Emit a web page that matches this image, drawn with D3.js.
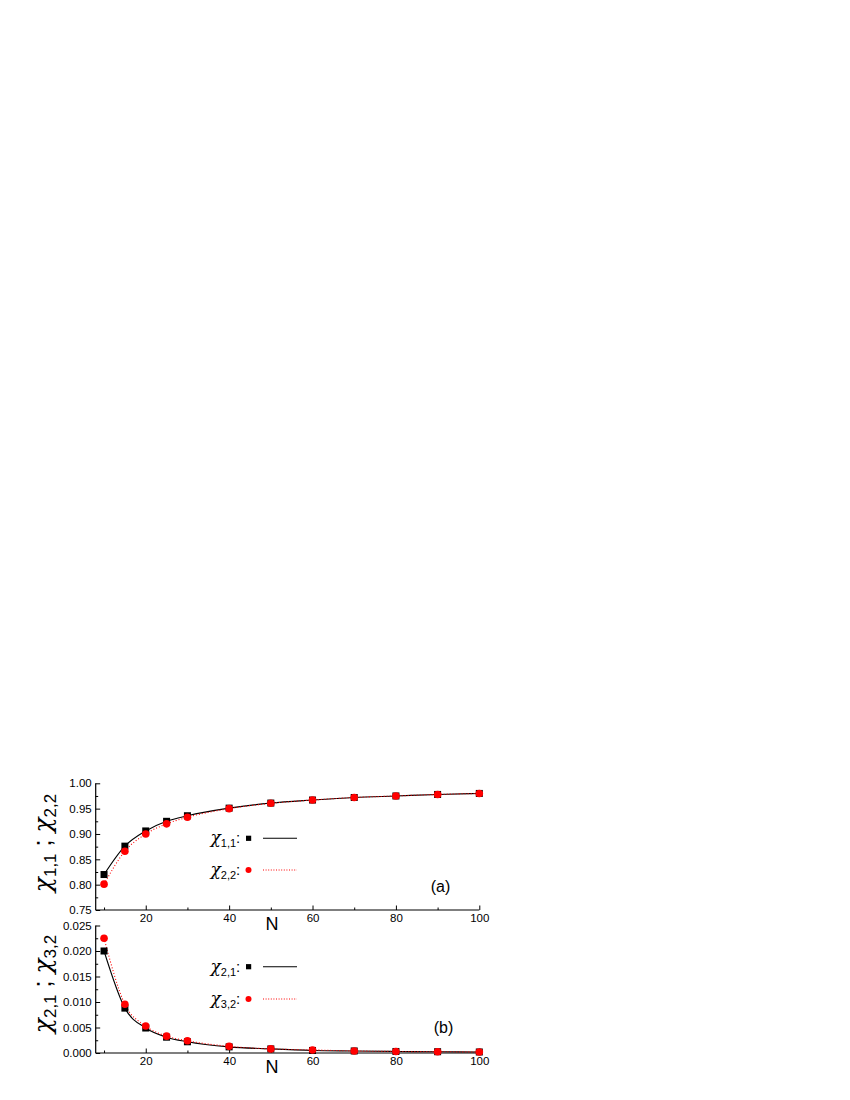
<!DOCTYPE html>
<html>
<head>
<meta charset="utf-8">
<script src="https://cdn.jsdelivr.net/npm/d3@7"></script>
<style>
  body { margin: 0; background: #fff; }
  text { font-family: "Liberation Sans", Arial, sans-serif; }
  .chi { font-family: "DejaVu Serif", "Liberation Serif", serif; font-style: italic; }
</style>
</head>
<body>
<script>
var N = [10, 15, 20, 25, 30, 40, 50, 60, 70, 80, 90, 100];
var chi11 = [0.820, 0.876, 0.906, 0.925, 0.936, 0.951, 0.961, 0.967, 0.972, 0.975, 0.978, 0.980];
var chi22 = [0.801, 0.866, 0.900, 0.920, 0.933, 0.950, 0.9605, 0.967, 0.972, 0.975, 0.978, 0.980];
var chi21 = [0.0200, 0.0088, 0.0049, 0.0031, 0.0022, 0.0012, 0.0008, 0.0005, 0.0004, 0.0003, 0.00025, 0.0002];
var chi32 = [0.0225, 0.00955, 0.0053, 0.0033, 0.0024, 0.0013, 0.0008, 0.0006, 0.0004, 0.0003, 0.00025, 0.0002];

var xMajor = [20, 40, 60, 80, 100];
var xMinor = [10, 30, 50, 70, 90];
var topMajor = [0.75, 0.80, 0.85, 0.90, 0.95, 1.00];
var botMajor = [0.000, 0.005, 0.010, 0.015, 0.020, 0.025];

var svg = d3.select("body").append("svg")
    .attr("width", 850)
    .attr("height", 1100);

svg.append("rect").attr("width", 850).attr("height", 1100).attr("fill", "#fff");

var x = d3.scaleLinear().domain([8, 100]).range([95.7, 479.3]);

var panels = [
  { y: d3.scaleLinear().domain([0.75, 1.00]).range([910, 783.3]),
    major: topMajor, fmt: d3.format(".2f"),
    black: chi11, red: chi22,
    names: ["1,1", "2,2"], label: "(a)",
    legY: [838.3, 870], labelPos: [440.5, 891.5], titleY: 843 },
  { y: d3.scaleLinear().domain([0, 0.025]).range([1053, 925.5]),
    major: botMajor, fmt: d3.format(".3f"),
    black: chi21, red: chi32,
    names: ["2,1", "3,2"], label: "(b)",
    legY: [966.7, 999], labelPos: [443.5, 1033], titleY: 984 }
];

panels.forEach(function(p) {
  var y = p.y;
  var g = svg.append("g");
  var y0 = y.range()[0];

  // axes, ticks point inward
  var ya = g.append("g").attr("transform", "translate(95.7,0)")
    .call(d3.axisLeft(y).tickValues(p.major).tickFormat(p.fmt).tickSize(-4.5).tickPadding(4));
  var minorY = [];
  for (var i = 0; i < p.major.length - 1; i++) minorY.push((p.major[i] + p.major[i + 1]) / 2);
  g.append("g").attr("transform", "translate(95.7,0)")
    .call(d3.axisLeft(y).tickValues(minorY).tickFormat("").tickSize(-2.5))
    .select(".domain").remove();

  var xa = g.append("g").attr("transform", "translate(0," + y0 + ")")
    .call(d3.axisBottom(x).tickValues(xMajor).tickSize(-4.5).tickPadding(4));
  g.append("g").attr("transform", "translate(0," + y0 + ")")
    .call(d3.axisBottom(x).tickValues(xMinor).tickFormat("").tickSize(-2.5))
    .select(".domain").remove();

  g.selectAll(".domain").attr("stroke-width", 1.2);
  g.selectAll(".tick line").attr("stroke-width", 1);
  g.selectAll(".tick text").attr("font-size", 11.5)
    .attr("font-family", "Liberation Sans, Arial, sans-serif").attr("fill", "#000");
  ya.select(".domain").attr("d", "M0," + y.range()[1] + "V" + y0);
  xa.select(".domain").attr("d", "M" + x.range()[0] + ",0H" + x.range()[1]);

  // lines
  var line = function(vals) {
    return d3.line().curve(d3.curveMonotoneX)
      .x(function(d, i) { return x(N[i]); })
      .y(function(d) { return y(d); })(vals);
  };
  g.append("path").attr("d", line(p.black)).attr("fill", "none")
    .attr("stroke", "#000").attr("stroke-width", 1.1);
  g.append("path").attr("d", line(p.red)).attr("fill", "none")
    .attr("stroke", "#ff0000").attr("stroke-width", 1.1).attr("stroke-dasharray", "1,2");

  // markers
  g.selectAll(".sq").data(p.black).enter().append("rect")
    .attr("x", function(d, i) { return x(N[i]) - 3.5; })
    .attr("y", function(d) { return y(d) - 3.5; })
    .attr("width", 7).attr("height", 7).attr("fill", "#000");
  g.selectAll(".ci").data(p.red).enter().append("circle")
    .attr("cx", function(d, i) { return x(N[i]); })
    .attr("cy", function(d) { return y(d); })
    .attr("r", 3.8).attr("fill", "#ff0000");

  // legend
  [0, 1].forEach(function(k) {
    var ly = p.legY[k];
    var t = g.append("text").attr("x", 210.5).attr("y", ly + 5).attr("font-size", 17);
    t.append("tspan").attr("class", "chi").text("χ");
    t.append("tspan").attr("font-size", 11).attr("dy", 4).text(p.names[k]);
    t.append("tspan").attr("dy", -4).attr("font-size", 15).text(":");
    if (k === 0) {
      g.append("rect").attr("x", 246).attr("y", ly - 2.6).attr("width", 5.2).attr("height", 5.2).attr("fill", "#000");
      g.append("line").attr("x1", 263).attr("x2", 297).attr("y1", ly).attr("y2", ly)
        .attr("stroke", "#000").attr("stroke-width", 1.1);
    } else {
      g.append("circle").attr("cx", 248.5).attr("cy", ly).attr("r", 3).attr("fill", "#ff0000");
      g.append("line").attr("x1", 263).attr("x2", 297).attr("y1", ly).attr("y2", ly)
        .attr("stroke", "#ff0000").attr("stroke-width", 1).attr("stroke-dasharray", "1,1.6");
    }
  });

  // panel label
  g.append("text").attr("x", p.labelPos[0]).attr("y", p.labelPos[1])
    .attr("text-anchor", "middle").attr("font-size", 16).text(p.label);

  // N title
  g.append("text").attr("x", 272).attr("y", y0 + 19.5)
    .attr("text-anchor", "middle").attr("font-size", 18).text("N");

  // rotated y title
  var tt = g.append("text")
    .attr("transform", "translate(51," + p.titleY + ") rotate(-90)")
    .attr("text-anchor", "middle").attr("font-size", 25);
  tt.append("tspan").attr("class", "chi").text("χ");
  tt.append("tspan").attr("font-size", 17).attr("dy", 5).text(p.names[0]);
  tt.append("tspan").attr("dy", -5).text(" ; ");
  tt.append("tspan").attr("class", "chi").text("χ");
  tt.append("tspan").attr("font-size", 17).attr("dy", 5).text(p.names[1]);
});
</script>
</body>
</html>
